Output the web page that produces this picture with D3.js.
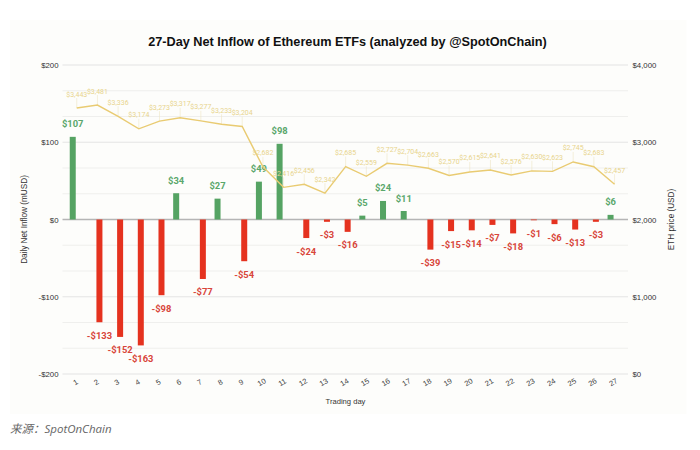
<!DOCTYPE html>
<html>
<head>
<meta charset="utf-8">
<script src="https://cdn.jsdelivr.net/npm/d3@7"></script>
<style>
	html, body { margin: 0; padding: 0; background: #fff; }
	svg { display: block; }
	.tick text { font-family: "Liberation Sans", Arial, sans-serif; }
</style>
</head>
<body>
<svg id="chart" width="700" height="450"></svg>
<script>
var days = d3.range(1, 28);
var netInflow = [107, -133, -152, -163, -98, 34, -77, 27, -54, 49, 98, -24, -3, -16, 5, 24, 11, -39, -15, -14, -7, -18, -1, -6, -13, -3, 6];
var ethPrice = [3443, 3481, 3336, 3174, 3273, 3317, 3277, 3233, 3204, 2682, 2416, 2456, 2342, 2685, 2559, 2727, 2704, 2663, 2570, 2615, 2641, 2576, 2630, 2623, 2745, 2683, 2457];
var inflowTicks = [200, 100, 0, -100, -200];
var priceTicks = [4000, 3000, 2000, 1000, 0];
var minorGrid = [166.67, 133.33, 66.67, 33.33, -33.33, -66.67, -133.33, -166.67];
var groups = ['in', 'out'];

var svg = d3.select('#chart');
var sans = '"Liberation Sans", Arial, sans-serif';
var roboto = 'Roboto, sans-serif';

var x = d3.scaleBand().domain(days).range([66.4, 624.9]);
var xGroup = d3.scaleBand().domain(groups).range([-7, 5]);
var y = d3.scaleLinear().domain([-200, 200]).range([374, 65]);
var yPrice = d3.scaleLinear().domain([0, 4000]).range([374, 65]);

var money = function(v) {
	return (v < 0 ? '-$' : '$') + d3.format(',')(Math.abs(v));
};
var cx = function(d) { return x(d) + x.bandwidth() / 2; };
var barX = function(i) {
	return cx(days[i]) + xGroup(netInflow[i] >= 0 ? 'in' : 'out') + xGroup.bandwidth() / 2;
};

// panel
svg.append('rect')
	.attr('x', 10).attr('y', 20)
	.attr('width', 676.5).attr('height', 394)
	.attr('fill', '#fdfdfb');

svg.append('text')
	.attr('x', 347.5).attr('y', 45.5)
	.attr('text-anchor', 'middle')
	.attr('font-family', sans)
	.attr('font-weight', 'bold')
	.attr('font-size', 12.7)
	.attr('fill', '#111')
	.text('27-Day Net Inflow of Ethereum ETFs (analyzed by @SpotOnChain)');

// grid
svg.append('g').selectAll('line').data(minorGrid).enter().append('line')
	.attr('x1', 62.5).attr('x2', 628)
	.attr('y1', y).attr('y2', y)
	.attr('stroke', '#efefed').attr('stroke-width', 1);
svg.append('g').selectAll('line').data(inflowTicks).enter().append('line')
	.attr('x1', 62.5).attr('x2', 628)
	.attr('y1', y).attr('y2', y)
	.attr('stroke', function(d) { return d == 0 ? '#b5b5b5' : '#e4e4e4'; })
	.attr('stroke-width', function(d) { return d == 0 ? 1.3 : 1.2; });

// axes
var leftAxis = svg.append('g')
	.attr('transform', 'translate(62,0)')
	.call(d3.axisLeft(y).tickValues(inflowTicks).tickSize(0).tickPadding(3.5).tickFormat(money));
var rightAxis = svg.append('g')
	.attr('transform', 'translate(629,0)')
	.call(d3.axisRight(yPrice).tickValues(priceTicks).tickSize(0).tickPadding(3.5).tickFormat(money));
var bottomAxis = svg.append('g')
	.attr('transform', 'translate(0,374)')
	.call(d3.axisBottom(x).tickSize(0).tickPadding(0));
leftAxis.select('.domain').remove();
rightAxis.select('.domain').remove();
bottomAxis.select('.domain').remove();
leftAxis.selectAll('text').attr('font-size', 7.8).attr('fill', '#333');
rightAxis.selectAll('text').attr('font-size', 7.8).attr('fill', '#333');
bottomAxis.selectAll('text')
	.attr('font-size', 7.5)
	.attr('fill', '#444')
	.attr('dy', 0)
	.attr('text-anchor', 'middle')
	.attr('transform', 'translate(0,10.5) rotate(-30)');

// bars
svg.append('g').selectAll('rect').data(netInflow).enter().append('rect')
	.attr('x', function(d, i) { return barX(i) - 3; })
	.attr('y', function(d) { return y(Math.max(d, 0)); })
	.attr('width', 6)
	.attr('height', function(d) { return Math.abs(y(d) - y(0)); })
	.attr('fill', function(d) { return d >= 0 ? '#55a363' : '#e5321f'; });

// inflow labels
svg.append('g').selectAll('text').data(netInflow).enter().append('text')
	.attr('x', function(d, i) { return barX(i); })
	.attr('y', function(d) { return d >= 0 ? y(d) - 9.5 : y(d) + 16.5; })
	.attr('text-anchor', 'middle')
	.attr('font-family', roboto)
	.attr('font-weight', 'bold')
	.attr('font-size', 9.4)
	.attr('fill', function(d) { return d >= 0 ? '#5aa76b' : '#d8453a'; })
	.text(money);

// price line
var priceLine = d3.line()
	.x(function(d, i) { return cx(days[i]); })
	.y(function(d) { return yPrice(d); });

svg.append('g').selectAll('line').data(ethPrice).enter().append('line')
	.attr('x1', function(d, i) { return cx(days[i]); })
	.attr('x2', function(d, i) { return cx(days[i]); })
	.attr('y1', function(d) { return yPrice(d); })
	.attr('y2', function(d) { return yPrice(d) - 10; })
	.attr('stroke', '#efe6c4').attr('stroke-width', 0.6);
svg.append('path')
	.attr('d', priceLine(ethPrice))
	.attr('fill', 'none')
	.attr('stroke', '#e9cb72')
	.attr('stroke-width', 1.4);
svg.append('g').selectAll('text').data(ethPrice).enter().append('text')
	.attr('x', function(d, i) { return cx(days[i]); })
	.attr('y', function(d) { return yPrice(d) - 11.5; })
	.attr('text-anchor', 'middle')
	.attr('font-family', roboto)
	.attr('font-size', 7)
	.attr('fill', '#e8d48c')
	.text(money);

// axis titles
svg.append('text')
	.attr('transform', 'translate(26.5,219.5) rotate(-90)')
	.attr('text-anchor', 'middle')
	.attr('font-family', sans).attr('font-size', 8.2).attr('fill', '#333')
	.text('Daily Net Inflow (mUSD)');
svg.append('text')
	.attr('transform', 'translate(674,219.5) rotate(-90)')
	.attr('text-anchor', 'middle')
	.attr('font-family', sans).attr('font-size', 8.2).attr('fill', '#333')
	.text('ETH price (USD)');
svg.append('text')
	.attr('x', 345.5).attr('y', 403.5)
	.attr('text-anchor', 'middle')
	.attr('font-family', sans).attr('font-size', 7.6).attr('fill', '#333')
	.text('Trading day');

svg.append('text')
	.attr('x', 10).attr('y', 433)
	.attr('font-family', '"Open Sans", "Noto Sans CJK SC", sans-serif')
	.attr('font-style', 'italic')
	.attr('font-size', 11.5)
	.attr('fill', '#666')
	.text('来源：SpotOnChain');
</script>
</body>
</html>
